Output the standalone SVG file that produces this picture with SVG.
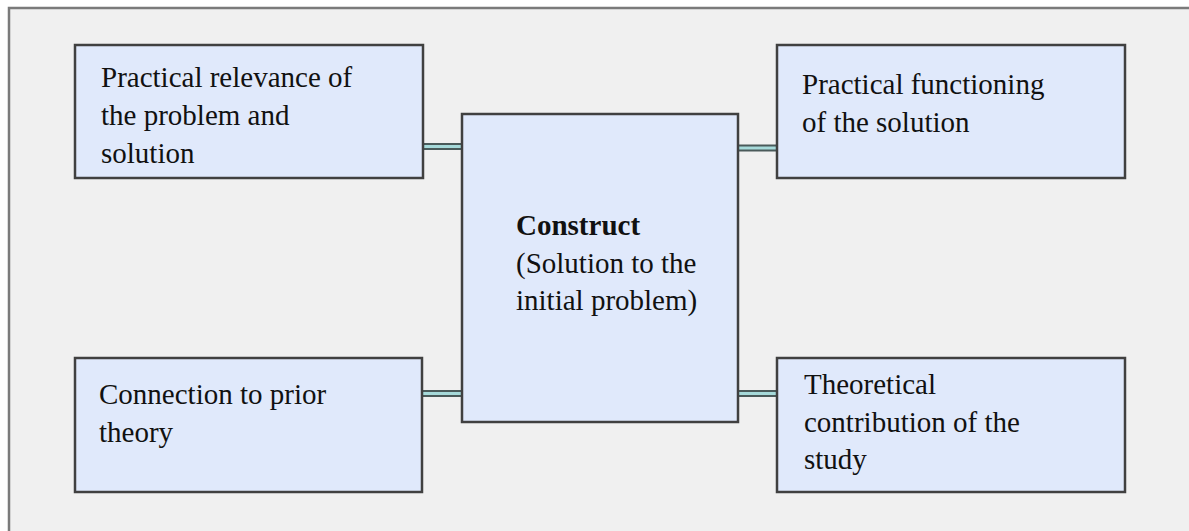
<svg xmlns="http://www.w3.org/2000/svg" width="1189" height="531" viewBox="0 0 1189 531">
<style>
.box{fill:#e0e9fb;stroke:#404040;stroke-width:2.5}
.t{font-family:'Liberation Serif','DejaVu Serif',serif;font-size:29px;fill:#111}
.b{font-weight:bold}
.co{stroke:#4a5a5a;stroke-width:7;fill:none}
.ci{stroke:#a6dada;stroke-width:3;fill:none}
</style>
<rect x="0" y="0" width="1189" height="531" fill="#ffffff"/>
<rect x="9" y="8" width="1200" height="540" fill="#f0f0f0" stroke="#7a7a7a" stroke-width="2.5"/>
<g id="connectors">
<line class="co" x1="423" y1="146.5" x2="462" y2="146.5"/>
<line class="ci" x1="423" y1="146.5" x2="462" y2="146.5"/>
<line class="co" x1="738" y1="148" x2="776" y2="148"/>
<line class="ci" x1="738" y1="148" x2="776" y2="148"/>
<line class="co" x1="422" y1="393.5" x2="462" y2="393.5"/>
<line class="ci" x1="422" y1="393.5" x2="462" y2="393.5"/>
<line class="co" x1="738" y1="393.5" x2="776" y2="393.5"/>
<line class="ci" x1="738" y1="393.5" x2="776" y2="393.5"/>
</g>
<g id="n-relevance">
<rect class="box" x="75" y="45" width="348" height="133"/>
<text class="t" x="101" y="87">Practical relevance of</text>
<text class="t" x="101" y="125">the problem and</text>
<text class="t" x="101" y="163">solution</text>
</g>
<g id="n-functioning">
<rect class="box" x="777" y="45" width="348" height="133"/>
<text class="t" x="802" y="94">Practical functioning</text>
<text class="t" x="802" y="132">of the solution</text>
</g>
<g id="n-construct">
<rect class="box" x="462" y="114" width="276" height="308"/>
<text class="t b" x="516" y="235">Construct</text>
<text class="t" x="516" y="273">(Solution to the</text>
<text class="t" x="516" y="310">initial problem)</text>
</g>
<g id="n-prior">
<rect class="box" x="75" y="358" width="347" height="134"/>
<text class="t" x="99" y="404">Connection to prior</text>
<text class="t" x="99" y="442">theory</text>
</g>
<g id="n-contribution">
<rect class="box" x="777" y="358" width="348" height="134"/>
<text class="t" x="804" y="394">Theoretical</text>
<text class="t" x="804" y="432">contribution of the</text>
<text class="t" x="804" y="469">study</text>
</g>
</svg>
